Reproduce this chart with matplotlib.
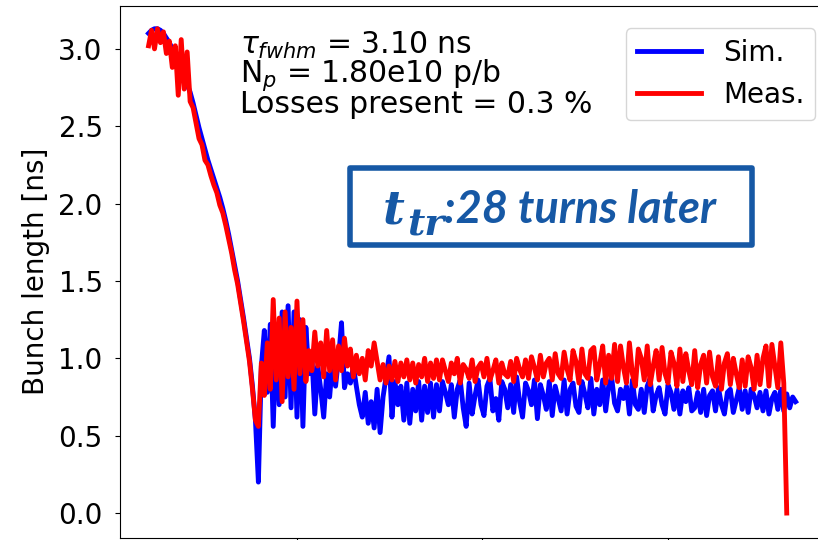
import numpy as np
import matplotlib
matplotlib.use("Agg")
import matplotlib.pyplot as plt
from matplotlib.patches import Rectangle

# bunch length vs turn, sampled every 16 turns from turn 200
turn0 = 200
dturn = 16

sim = [
    # filamentation / rotation
    3.10, 3.12, 3.13, 3.13, 3.12, 3.10, 3.07, 3.04, 3.00, 2.96,
    2.92, 2.87, 2.82, 2.77, 2.72, 2.65, 2.57, 2.49, 2.42, 2.35,
    2.28, 2.22, 2.16, 2.10, 2.04, 1.97, 1.89, 1.80, 1.70, 1.60,
    1.50, 1.38, 1.26, 1.13, 1.00, 0.82, 0.60,
    # oscillations after the minimum
    0.20, 0.95, 1.18, 0.78, 1.22, 0.56, 1.15, 0.70, 1.30, 0.75,
    1.34, 0.68, 1.30, 0.62, 1.25, 0.56, 1.20, 0.90, 1.02, 0.64,
    0.95, 0.80, 0.62, 0.90, 0.75, 0.98, 0.82, 1.00, 1.23, 0.81,
    0.90, 0.84, 0.95, 0.82, 0.70, 0.62, 0.78, 0.58, 0.72, 0.55,
    0.80, 0.52, 0.75, 0.88, 1.01, 0.62, 0.85, 0.70, 0.82, 0.60,
    0.84, 0.58, 0.80, 0.66, 0.85, 0.60, 0.82, 0.65, 0.84, 0.62,
    0.83,
    # settled
    0.66, 0.85, 0.78, 0.70, 0.83, 0.62, 0.80, 0.86, 0.68, 0.56,
    0.84, 0.64, 0.76, 0.86, 0.70, 0.63, 0.82, 0.87, 0.66, 0.74,
    0.60, 0.85, 0.80, 0.68, 0.83, 0.65, 0.88, 0.72, 0.62, 0.84,
    0.79, 0.70, 0.86, 0.61, 0.83, 0.76, 0.67, 0.85, 0.63, 0.82,
    0.74, 0.66, 0.86, 0.64, 0.80, 0.84, 0.69, 0.65, 0.85, 0.77,
    0.68, 0.87, 0.64, 0.80, 0.70, 0.86, 0.66, 0.82, 0.88, 0.71,
    0.66, 0.80, 0.74, 0.82, 0.64, 0.86, 0.70, 0.67, 0.80, 0.65,
    0.82, 0.87, 0.66, 0.76, 0.81, 0.70, 0.64, 0.83, 0.78, 0.67,
    0.80, 0.64, 0.79, 0.72, 0.81, 0.66, 0.68, 0.78, 0.65, 0.80,
    0.63, 0.76, 0.79, 0.66, 0.81, 0.70, 0.64, 0.78, 0.80, 0.65,
    0.73, 0.81, 0.67, 0.79, 0.65, 0.80, 0.76, 0.68, 0.78, 0.66,
    0.79, 0.64, 0.74, 0.78, 0.67, 0.80, 0.66, 0.77, 0.68, 0.75,
    0.72,
]

meas = [
    3.02, 3.12, 3.00, 3.13, 3.04, 3.11, 2.97, 3.05, 2.88, 3.02,
    2.70, 3.06, 2.74, 2.98, 2.66, 2.62, 2.52, 2.42, 2.38, 2.28,
    2.25, 2.18, 2.12, 2.07, 1.99, 1.94, 1.86, 1.77, 1.68, 1.57,
    1.48, 1.36, 1.24, 1.11, 0.98, 0.80, 0.60,
    0.56, 0.97, 0.76, 1.10, 0.80, 1.38, 0.86, 1.26, 0.72, 1.30,
    0.88, 1.20, 0.80, 1.37, 0.90, 1.25, 0.85, 1.05, 0.92, 1.17,
    0.95, 1.10, 0.88, 1.18, 0.92, 1.12, 0.86, 1.08, 0.92, 1.13,
    0.95, 1.06, 0.88, 1.02, 0.90, 1.00, 0.86, 1.05, 0.95, 1.10,
    0.98, 0.86, 0.96, 0.84, 0.95, 0.86, 0.98, 0.85, 0.97, 0.88,
    0.99, 0.86, 0.97, 0.84, 0.96, 0.88, 1.00, 0.85, 0.97, 0.87,
    0.99,
    0.86, 0.99, 0.92, 0.85, 0.97, 0.90, 1.00, 0.84, 0.96, 0.93,
    0.87, 0.99, 0.85, 0.94, 0.97, 0.88, 1.00, 0.86, 0.92, 0.99,
    0.84, 0.97, 0.90, 0.88, 0.98, 0.85, 1.00, 0.93, 0.88, 0.99,
    0.87, 1.01, 0.94, 0.86, 1.02, 0.88, 0.97, 1.00, 0.86, 1.03,
    0.90, 0.87, 1.04, 0.93, 0.86, 1.05, 0.98, 0.84, 1.06, 0.90,
    0.87, 1.05, 1.07, 0.86, 0.96, 1.08, 0.84, 1.02, 0.87, 1.09,
    0.85, 1.08, 0.94, 0.84, 1.10, 0.90, 0.82, 1.06, 1.00, 0.86,
    1.08, 0.83, 0.95, 1.05, 0.86, 1.07, 0.90, 0.84, 1.04, 0.97,
    0.82, 1.06, 0.85, 1.03, 0.92, 0.83, 1.05, 0.81, 0.96, 1.02,
    0.84, 1.04, 0.88, 0.82, 1.01, 0.80, 0.97, 1.03, 0.83, 1.00,
    0.90, 0.81, 0.99, 0.82, 1.01, 0.94, 0.80, 1.02, 0.83, 1.00,
    1.08, 0.82, 1.09, 0.95, 0.81, 1.10, 0.84, 0.00,
]

tau_fwhm = 3.10
n_p = "1.80e10"
losses = 0.3
delay_turns = 28

turns_sim = turn0 + dturn * np.arange(len(sim))
turns_meas = turn0 + dturn * np.arange(len(meas))

W, H = 818, 540
AX_L, AX_B, AX_W, AX_H = 120, 2.5, 712, 531.5

fig = plt.figure(figsize=(W/100, H/100), dpi=100)
ax = fig.add_axes([AX_L/W, AX_B/H, AX_W/W, AX_H/H])

def axpos(px, py):
    # pixel position (from top-left of the figure) -> axes fraction
    return (px - AX_L) / AX_W, (H - py - AX_B) / AX_H

ax.plot(turns_sim, sim, color='blue', lw=3.5, label='Sim.')
ax.plot(turns_meas, meas, color='red', lw=3.5, label='Meas.')

ax.set_xlim(46, 3884)
ax.set_ylim(-0.158, 3.277)
ax.set_xticks([1000, 2000, 3000])
ax.set_yticks(np.arange(0, 3.01, 0.5))
ax.tick_params(labelbottom=False, labelsize=20, pad=9)
ax.set_ylabel('Bunch length [ns]', fontsize=20, labelpad=6)
ax.spines['right'].set_visible(False)

ax.text(0.168, 0.955,
        r'$\tau_{fwhm}$ = %.2f ns' % tau_fwhm + '\n'
        + r'N$_p$ = %s p/b' % n_p + '\n'
        + 'Losses present = %.1f %%' % losses,
        transform=ax.transAxes, fontsize=21.5, va='top', ha='left',
        linespacing=0.85)

ax.legend(loc='upper right', bbox_to_anchor=(1.0, 0.99), fontsize=20,
          handlelength=2.3, borderaxespad=0.6)

# note box
blue_note = '#1658a5'
x0, y0 = axpos(350, 245)
x1, y1 = axpos(752, 168)
ax.add_patch(Rectangle((x0, y0), x1 - x0, y1 - y0, transform=ax.transAxes,
                       fill=False, ec=blue_note, lw=4, joinstyle='round', zorder=5))
note_font = dict(transform=ax.transAxes, color=blue_note, weight='bold',
                 style='italic', va='baseline', ha='left', zorder=6)
ax.text(*axpos(383, 223), 't', family='DejaVu Serif', fontsize=34, **note_font)
ax.text(*axpos(407, 236), 'tr', family='DejaVu Serif', fontsize=27, **note_font)
ax.text(*axpos(444, 223), ':%d turns later' % delay_turns, family='Lato',
        fontsize=32.5, **note_font)

fig.savefig('out.png', dpi=100)
